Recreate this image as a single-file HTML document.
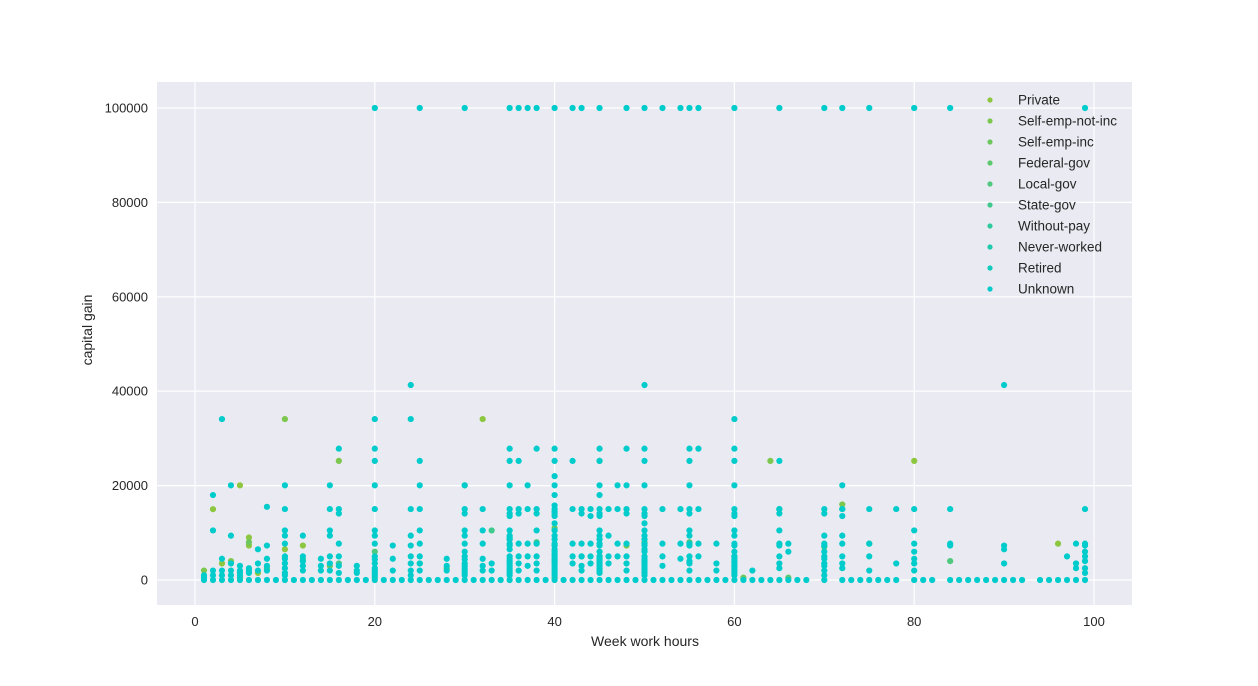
<!DOCTYPE html>
<html><head><meta charset="utf-8"><style>
html,body{margin:0;padding:0;background:#fff;}
svg text{font-family:"Liberation Sans",Arial,sans-serif;fill:#262626;}
</style></head><body>
<svg id="chart" width="1258" height="681" xmlns="http://www.w3.org/2000/svg">
<rect x="157" y="82" width="975" height="523" fill="#eaeaf2"/>
<g id="grid"></g><g id="marks"></g><g id="axes"></g><g id="legend"></g>
<text x="645" y="646" font-size="14" text-anchor="middle">Week work hours</text>
<text transform="translate(92,330) rotate(-90)" font-size="14" text-anchor="middle">capital gain</text>
</svg>
<script>
const seriesNames=["Private","Self-emp-not-inc","Self-emp-inc","Federal-gov","Local-gov","State-gov","Without-pay","Never-worked","Retired","Unknown"];
const xTicks=[0,20,40,60,80,100];
const yTicks=[0,20000,40000,60000,80000,100000];
const zeroHours=[1,2,3,4,5,6,7,8,9,10,11,12,13,14,15,16,17,18,19,20,21,22,23,24,25,26,27,28,29,30,31,32,33,34,35,36,37,38,39,40,41,42,43,44,45,46,47,48,49,50,51,52,53,54,55,56,57,58,59,60,61,62,63,64,65,66,67,68,70,72,73,74,75,76,77,78,80,81,82,84,85,86,87,88,89,90,91,92,94,95,96,97,98,99];
const colHours=[1,2,3,4,5,6,7,8,10,12,14,15,16,18,20,22,24,25,28,30,32,33,35,36,37,38,40,42,43,44,45,46,47,48,50,52,54,55,56,58,60,62,65,66,70,72,75,78,80,84,90,97,98,99];
const colGains=[
[1000,500],[10500,18000,2000,1000],[34095,4500,2000,1000],[20051,9400,3500,2000,1000],[3000,2000,1500,1000],[2500,2000,1500],[6500,3500,2000],[15500,7300,4500,3000,2000],
[20051,15024,10500,9400,7700,5000,4500,3500,2500,1500,1000],[9400,5000,4000,3000,2000],[4500,3000,2000],[20051,15024,10500,9400,5000,3500,2000],[27828,15024,14084,7700,5000,3000,1500],[3000,2000,1500],
[100000,34095,27828,25236,20051,15024,10500,9400,7700,5000,4386,3500,2500,2000,1500,1000],[7300,4500,2000],[41310,34095,15024,9400,7300,5000,3500,2000,1000],[100000,25236,20051,15024,10500,7700,5000,3500,2000],[4500,3000,2000],
[100000,20051,15024,14084,10500,9400,7700,6000,5000,4386,3500,3000,2500,2000,1500,1000],[15024,10500,7700,4500,3000,2000],[3500,2000],
[100000,27828,25236,20051,15024,14084,13550,10500,9400,8600,7700,7300,6500,5000,4500,4000,3500,3000,2500,2000,1500,1000],[100000,25236,15024,14084,7700,5000,3500,2000],[100000,20051,15024,7700,5000,3000],[100000,27828,15024,14084,10500,7700,5000,3500,2000],
[100000,27828,25236,22000,20051,18000,15800,15024,14500,14084,13550,12000,10500,9400,8600,7700,7300,6500,6000,5500,5000,4500,4386,4000,3500,3000,2500,2000,1500,1000],[100000,25236,15024,7700,5000,3500],[100000,15024,14084,7700,5000,3000,2000],[15024,13550,7700,5000,3500],
[100000,27828,25236,20051,18000,15024,14084,13550,10500,9400,8600,7700,7300,6000,5000,4500,4000,3500,3000,2500,2000,1500],[15024,9400,5000,3500],[20051,15024,7700,5000],[100000,27828,20051,15024,14084,7700,5000,3500,2000],
[100000,41310,27828,25236,20051,15024,14084,13550,12000,10500,9400,8600,7700,7300,6500,6000,5000,4500,4000,3500,3000,2500,2000,1500,1000],[100000,15024,7700,5000,3000],[100000,15024,7700,4500],[100000,27828,25236,20051,15024,14084,10500,9400,7700,7300,5000,4000,3500,2000],[100000,27828,15024,7700,5000],[7700,3500,2000],
[100000,34095,27828,25236,20051,15024,14084,13550,10500,9400,7700,7300,6000,5000,4500,4000,3500,3000,2500,2000,1500,1000],[2000],[100000,25236,15024,14084,10500,7700,7300,5000,3500,2500],[7700,6000],
[100000,15024,14084,9400,7700,7300,6000,5000,4500,3500,3000,2000,1000],[100000,20051,15024,13550,9400,7700,5000,3500,2500],[100000,15024,7700,5000,2000],[15024,3500],[100000,15024,10500,7700,6000,4500,3500,2000],[100000,15024,7700,7300],[41310,7300,6500,3500],[5000],[7700,3500,2500],[100000,15024,7700,7300,6000,5000,4000,2500,1500]
];
const greenPts={
"Private":[[2,15000],[5,20051],[6,9000],[6,7300],[10,6500],[12,7300],[32,34095],[80,25236],[96,7700],[3,3500],[7,1500]],
"Self-emp-not-inc":[[1,2000],[4,4000],[10,34095],[16,25236],[30,20051],[45,25236],[64,25236],[72,16000],[48,7300]],
"Self-emp-inc":[[6,8000],[15,3000],[28,2500],[40,11000],[35,8600],[50,8000],[61,500],[75,7700]],
"Federal-gov":[[8,2500],[25,3500],[43,5000],[55,8000],[60,3000],[66,500]],
"Local-gov":[[12,4500],[20,6000],[38,8000],[45,5000],[70,7000],[84,4000]],
"State-gov":[[16,3500],[33,10500],[40,7300],[50,6500],[65,15024],[72,15024]],
"Without-pay":[[5,500],[40,500]],
"Never-worked":[[20,500]],
"Retired":[[35,9000],[45,4500],[60,5000]]
};
const NS="http://www.w3.org/2000/svg";
const X0=195,XK=8.99,Y0=580,YK=472/100000;
function xs(v){return X0+v*XK;}
function ys(v){return Y0-v*YK;}
function col(i){const a=[141,198,63],b=[0,204,204],t=i/9;return `rgb(${Math.round(a[0]+(b[0]-a[0])*t)},${Math.round(a[1]+(b[1]-a[1])*t)},${Math.round(a[2]+(b[2]-a[2])*t)})`;}
function mk(tag,at,parent){const e=document.createElementNS(NS,tag);for(const k in at)e.setAttribute(k,at[k]);parent.appendChild(e);return e;}
const grid=document.getElementById('grid'),axes=document.getElementById('axes'),marks=document.getElementById('marks'),legend=document.getElementById('legend');
xTicks.forEach(t=>{const l=mk('line',{x1:xs(t),x2:xs(t),y1:82,y2:605,stroke:'#fff','stroke-width':1.2},grid);


const tx=mk('text',{x:xs(t),y:626,'font-size':13,'text-anchor':'middle'},axes);tx.textContent=t;

});
yTicks.forEach(t=>{const l=mk('line',{x1:157,x2:1132,y1:ys(t),y2:ys(t),stroke:'#fff','stroke-width':1.2},grid);


const tx=mk('text',{x:148,y:ys(t)+4.5,'font-size':13,'text-anchor':'end'},axes);tx.textContent=t;

});
function dot(h,g,c){const d=mk('circle',{cx:xs(h),cy:ys(g),r:3.1,fill:c},marks);

}
seriesNames.slice(0,9).forEach((n,i)=>{(greenPts[n]||[]).forEach(p=>dot(p[0],p[1],col(i)));});
const cy=col(9);
zeroHours.forEach(h=>dot(h,0,cy));
colHours.forEach((h,i)=>colGains[i].forEach(g=>dot(h,g,cy)));
seriesNames.forEach((n,i)=>{const y=100+i*21;
const c=mk('circle',{cx:990,cy:y,r:2.6,fill:col(i)},legend);


const t=mk('text',{x:1018,y:y+4.5,'font-size':13.5},legend);t.textContent=n;

});
</script>
</body></html>
